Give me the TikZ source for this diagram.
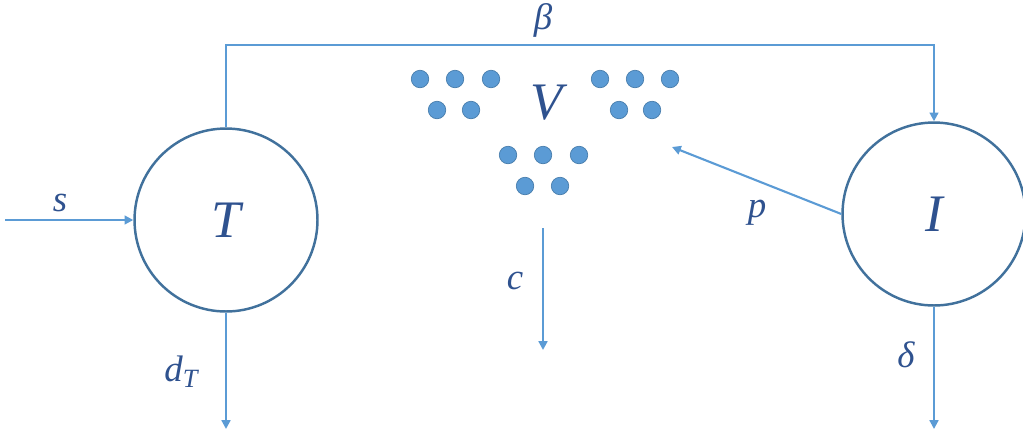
\documentclass[tikz,border=0pt]{standalone}
\usepackage{fontspec}
\setmainfont{Liberation Serif}
\usetikzlibrary{arrows.meta}
\definecolor{lineblue}{HTML}{5B9BD5}
\definecolor{ringblue}{HTML}{41719C}
\definecolor{textblue}{HTML}{2F528F}
\begin{document}
\begin{tikzpicture}[x=0.02cm,y=-0.02cm,
  comp/.style={circle,draw=ringblue,line width=1.4pt,minimum size=3.66cm,inner sep=0pt,font=\fontsize{30}{32}\selectfont\itshape,text=textblue},
  flow/.style={draw=lineblue,line width=1.2pt,-{Triangle[length=5pt,width=5pt]}},
  lab/.style={text=textblue,font=\fontsize{21}{24}\selectfont\itshape,inner sep=0pt},
  virus/.style={circle,fill=lineblue,draw=ringblue!70!lineblue,line width=0.4pt,minimum size=0.35cm,inner sep=0pt}]
\useasboundingbox (0,0) rectangle (1023,433);
\node[comp] (T) at (226,220) {T};
\node[comp] (I) at (934,214) {I};
\node[text=textblue,font=\fontsize{30}{32}\selectfont\itshape,inner sep=0pt] (V) at (547,103) {V};
% virus dots
\foreach \x/\y [count=\i] in {420/79,455/79,491/79,437/110,471/110,600/79,635/79,670/79,619/110,652/110,508/155,543/155,579/155,525/186,560/186}
  \node[virus] (v\i) at (\x,\y) {};
% coordinates
\coordinate (sin) at (5,220);
\coordinate (bl) at (226,45);
\coordinate (br) at (934,45);
\coordinate (dTend) at (226,429);
\coordinate (deltaend) at (934,429);
\coordinate (cstart) at (543,228);
\coordinate (cend) at (543,350);
\coordinate (pend) at (672,147);
% connectors
\draw[flow] (sin) -- (T.west);
\draw[flow] (T.north) -- (bl) -- (br) -- (I.north);
\draw[flow] (T.south) -- (dTend);
\draw[flow] (I.south) -- (deltaend);
\draw[flow] (cstart) -- (cend);
\draw[flow] (I.west) -- (pend);
% labels
\node[lab] (ls) at (60,203) {s};
\node[lab] (lb) at (543,20) {β};
\node[lab] (ldT) at (181,372) {d\raisebox{-0.35ex}{\fontsize{15}{16}\selectfont T}};
\node[lab] (ld) at (906,355) {δ};
\node[lab] (lc) at (515,281) {c};
\node[lab] (lp) at (757,213) {p};
\end{tikzpicture}
\end{document}
